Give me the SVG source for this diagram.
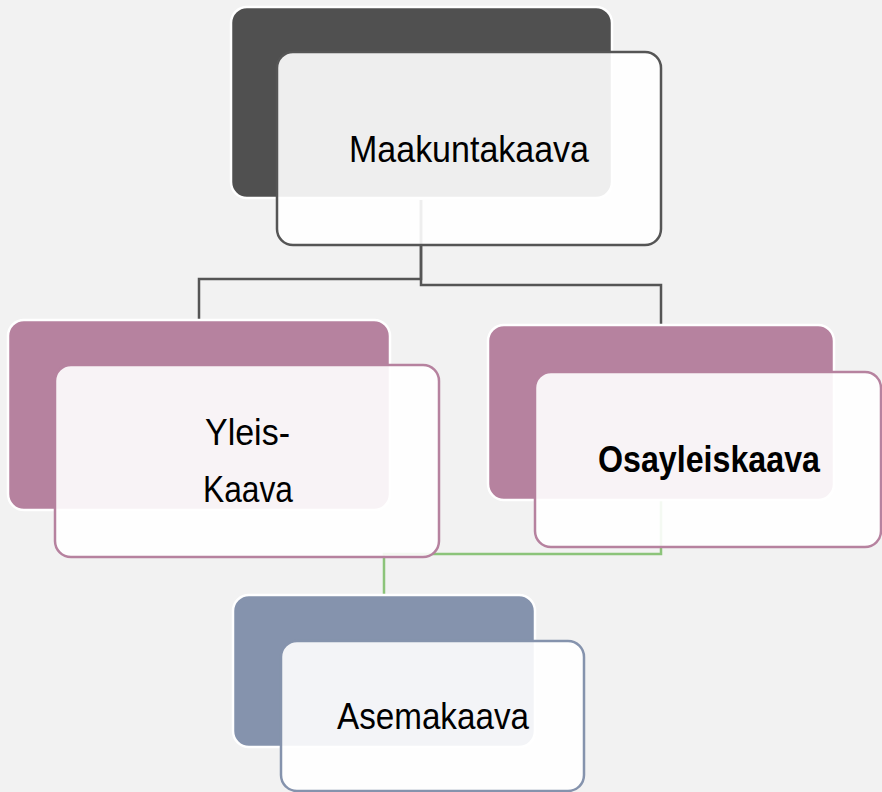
<svg xmlns="http://www.w3.org/2000/svg" width="882" height="792" viewBox="0 0 882 792">
<style>
.back{stroke:#ffffff;stroke-width:2.5}
.front{fill:#ffffff;fill-opacity:0.9;stroke-width:2.5}
.lbl{font-family:"Liberation Sans",Arial,sans-serif;font-size:37px;fill:#000000}
.conn{fill:none;stroke-width:2.5}
</style>
<rect x="0" y="0" width="882" height="792" fill="#f2f2f2"/>
<g id="connectors">
<path class="conn" stroke="#555555" d="M421,200 V279 H199 V321"/>
<path class="conn" stroke="#555555" d="M421,200 V285 H661 V326"/>
<path class="conn" stroke="#8cc47a" d="M661,500 V554 H384 V596"/>
</g>
<g id="maakuntakaava">
<rect class="back" x="231" y="7" width="381" height="191" rx="16" fill="#505050"/>
<rect class="front" x="277" y="52" width="384" height="193" rx="16" stroke="#555555"/>
<text class="lbl" x="349" y="162" textLength="240" lengthAdjust="spacingAndGlyphs">Maakuntakaava</text>
</g>
<g id="yleiskaava">
<rect class="back" x="8" y="320" width="382" height="190" rx="16" fill="#b6829f"/>
<rect class="front" x="55" y="365" width="384" height="192" rx="16" stroke="#b6829f"/>
<text class="lbl" x="205" y="445" textLength="85" lengthAdjust="spacingAndGlyphs">Yleis-</text>
<text class="lbl" x="203" y="502" textLength="90" lengthAdjust="spacingAndGlyphs">Kaava</text>
</g>
<g id="osayleiskaava">
<rect class="back" x="488" y="325" width="346" height="175" rx="16" fill="#b6829f"/>
<rect class="front" x="535" y="372" width="346" height="175" rx="16" stroke="#b6829f"/>
<text class="lbl" x="598" y="472" font-weight="bold" textLength="222" lengthAdjust="spacingAndGlyphs">Osayleiskaava</text>
</g>
<g id="asemakaava">
<rect class="back" x="233" y="595" width="302" height="152" rx="16" fill="#8593ad"/>
<rect class="front" x="281" y="641" width="303" height="150" rx="16" stroke="#8593ad"/>
<text class="lbl" x="337" y="729" textLength="192" lengthAdjust="spacingAndGlyphs">Asemakaava</text>
</g>
</svg>
